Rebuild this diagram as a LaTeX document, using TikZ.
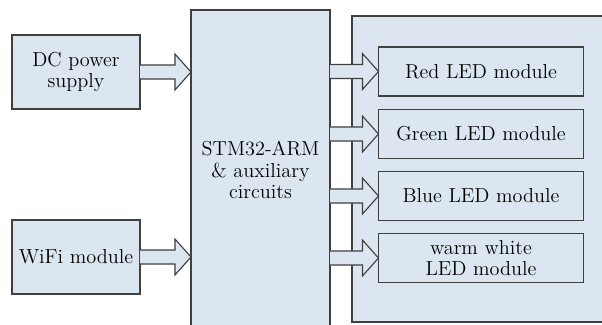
\documentclass[tikz,border=0pt]{standalone}
\usepackage{tikz}
\usetikzlibrary{
    positioning,
    calc
}
\usepackage{xcolor}
\definecolor{boxfill}{RGB}{220, 230, 241}
\definecolor{boxline}{RGB}{64, 64, 64}
\tikzstyle{block} = [
    rectangle,
    draw=boxline,
    line width=0.8pt,
    fill=boxfill,
    inner sep=0pt,
    outer sep=0pt,
    align=center,
    font=\fontsize{14.4}{15.5}\selectfont
]
\tikzstyle{fatarrow} = [
    draw=boxline,
    line width=0.8pt,
    fill=boxfill
]
% block arrow from #1 to #2, at the height of #2
\newcommand{\fatarrow}[2]{%
    \draw[fatarrow] let \p1=(#1), \p2=(#2) in
        (\x1,\y2+5pt) -- (\x2-11.4pt,\y2+5pt) -- (\x2-11.4pt,\y2+12.8pt)
        -- (\x2,\y2) -- (\x2-11.4pt,\y2-12.8pt) -- (\x2-11.4pt,\y2-5pt)
        -- (\x1,\y2-5pt);}

\begin{document}
\begin{tikzpicture}[x=0.025cm, y=-0.025cm]
        \useasboundingbox (0,0) rectangle (602,324);
        \clip (0,0) rectangle (602,324);

        % Inputs
        \node[block, minimum width=3.2cm, minimum height=1.85cm] (dc) at (76, 72) {DC power\\supply};
        \node[block, minimum width=3.2cm, minimum height=1.85cm] (wifi) at (76, 257) {WiFi module};

        % Controller
        \node[block, minimum width=3.475cm, minimum height=8cm] (stm) at (260.5, 170) {STM32-ARM\\\& auxiliary\\circuits};

        % LED panel
        \node[block, minimum width=6.45cm, minimum height=7.65cm] (panel) at (481, 169) {};

        % LED modules
        \node[block, minimum width=5.125cm, minimum height=1.225cm] (red) at (481, 71.5) {Red LED module};
        \node[block, minimum width=5.125cm, minimum height=1.225cm] (green) at (481, 134) {Green LED module};
        \node[block, minimum width=5.125cm, minimum height=1.225cm] (blue) at (481, 196) {Blue LED module};
        \node[block, minimum width=5.125cm, minimum height=1.225cm] (warm) at (481, 258) {warm white\\LED module};

        % Arrows
        \fatarrow{dc.east}{stm.west |- dc.east}
        \fatarrow{wifi.east}{stm.west |- wifi.east}
        \fatarrow{stm.east}{red.west}
        \fatarrow{stm.east}{green.west}
        \fatarrow{stm.east}{blue.west}
        \fatarrow{stm.east}{warm.west}
    \end{tikzpicture}
\end{document}
